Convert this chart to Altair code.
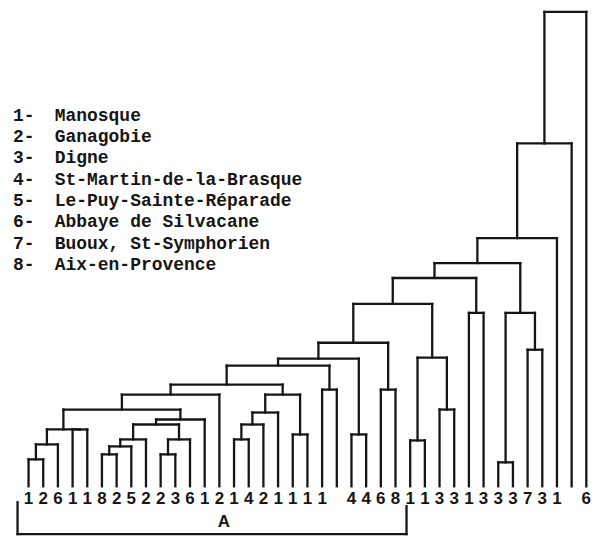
import altair as alt
import pandas as pd

# ---- data ----
leaf_labels = ["1", "2", "6", "1", "1", "8", "2", "5", "2", "2", "3", "6", "1",
               "2", "1", "4", "2", "1", "1", "1", "1", "", "4", "4", "6", "8",
               "1", "1", "3", "3", "1", "3", "3", "3", "7", "3", "1", "", "6"]

# merge steps: (node name, left child, right child, linkage height)
merge_names = ["a", "b", "p", "c", "e", "f", "g", "h", "i", "j", "k", "l1", "l2",
               "m1", "m2", "m3", "m4", "r1", "l3", "n1", "l4", "n2", "l5", "n3",
               "l6", "y1", "y2", "y", "l7", "w", "l8", "z1", "z2", "z", "l9",
               "l10", "l11", "l12"]
merge_left = [0, "a", 3, "b", 5, "e", "f", 9, "h", "g", "j", "c", "l1",
              14, "m1", "m2", 18, "m3", "l2", 20, "l3", 22, "l4", 24,
              "l5", 26, 28, "y1", "l6", 30, "l7", 32, 34, "z1", "l8",
              "l9", "l10", "l11"]
merge_right = [1, 2, 4, "p", 6, 7, 8, 10, 11, "i", 12, "k", 13,
               15, 16, 17, 19, "m4", "r1", 21, "n1", 23, "n2", 25,
               "n3", 27, 29, "y2", "y", 31, "w", 33, 35, "z2", "z",
               36, 37, 38]
merge_height = [27, 42, 57, 57, 32, 40, 47, 32, 47, 62, 67, 77, 92,
                47, 62, 74, 52, 92, 102, 97, 121, 52, 128, 97,
                144, 46, 77, 129, 183, 174, 209, 24, 137, 174, 224,
                249, 344, 476]

legend_nums = ["1-", "2-", "3-", "4-", "5-", "6-", "7-", "8-"]
legend_names = ["Manosque", "Ganagobie", "Digne", "St-Martin-de-la-Brasque",
                "Le-Puy-Sainte-Réparade", "Abbaye de Silvacane",
                "Buoux, St-Symphorien", "Aix-en-Provence"]

group_name = ["A"]
group_first_leaf = [0]
group_last_leaf = [25]
group_label_at = [13.3]

# ---- build dendrogram segments from the merge table ----
pos = {i: (float(i), 0.0) for i in range(len(leaf_labels))}
segs = []
for name, l, r, h in zip(merge_names, merge_left, merge_right, merge_height):
    xl, hl = pos[l]
    xr, hr = pos[r]
    segs.append(dict(x=xl, x2=xl, y=hl, y2=h))
    segs.append(dict(x=xr, x2=xr, y=hr, y2=h))
    segs.append(dict(x=xl, x2=xr, y=h, y2=h))
    pos[name] = ((xl + xr) / 2.0, float(h))
seg_df = pd.DataFrame(segs)

leaf_df = pd.DataFrame({"idx": list(range(len(leaf_labels))), "label": leaf_labels})

bstart = group_first_leaf[0] - 0.75
bend = group_last_leaf[0] + 0.75
bracket_df = pd.DataFrame([
    dict(x=bstart, x2=bstart, y=-16, y2=-48),
    dict(x=bend, x2=bend, y=-20, y2=-48),
    dict(x=bstart, x2=bend, y=-48, y2=-48),
])
group_df = pd.DataFrame({"x": group_label_at, "name": group_name})

leg_df = pd.DataFrame({"row": list(range(len(legend_nums))),
                       "num": legend_nums, "name": legend_names})

INK = "#151515"
xscale = alt.Scale(domain=[-1.4, 39.0], nice=False, zero=False)
yscale = alt.Scale(domain=[-50, 479], nice=False, zero=False)

tree = alt.Chart(seg_df).mark_rule(color=INK, strokeWidth=2.3, strokeCap="square").encode(
    x=alt.X("x:Q", scale=xscale, axis=None), x2="x2:Q",
    y=alt.Y("y:Q", scale=yscale, axis=None), y2="y2:Q",
)

bracket = alt.Chart(bracket_df).mark_rule(color=INK, strokeWidth=2.3, strokeCap="square").encode(
    x=alt.X("x:Q", scale=xscale, axis=None), x2="x2:Q",
    y=alt.Y("y:Q", scale=yscale, axis=None), y2="y2:Q",
)

labels = alt.Chart(leaf_df).mark_text(
    font="Liberation Sans", fontSize=17, fontWeight="bold", color=INK, baseline="middle"
).encode(
    x=alt.X("idx:Q", scale=xscale, axis=None),
    y=alt.datum(-13),
    text="label:N",
)

glabel = alt.Chart(group_df).mark_text(
    font="Liberation Sans", fontSize=17, fontWeight="bold", color=INK, baseline="middle"
).encode(
    x=alt.X("x:Q", scale=xscale, axis=None),
    y=alt.datum(-36),
    text="name:N",
)

main = alt.layer(tree, bracket, labels, glabel)

legy = alt.Y("row:Q", scale=alt.Scale(domain=[0, 7], range=[107, 257], nice=False, zero=False), axis=None)
leg_num = alt.Chart(leg_df).mark_text(
    font="Liberation Mono", fontSize=18, fontWeight="bold", color=INK, align="left", baseline="middle"
).encode(x=alt.value(5), y=legy, text="num:N")
leg_name = alt.Chart(leg_df).mark_text(
    font="Liberation Mono", fontSize=18, fontWeight="bold", color=INK, align="left", baseline="middle"
).encode(x=alt.value(47), y=legy, text="name:N")
legend = alt.layer(leg_num, leg_name)

chart = alt.layer(main, legend).resolve_scale(y="independent").properties(
    width=595, height=529, padding=0, background="white"
).configure_view(stroke=None)

chart.save("out.html", embed_options={"renderer": "svg", "actions": False})
